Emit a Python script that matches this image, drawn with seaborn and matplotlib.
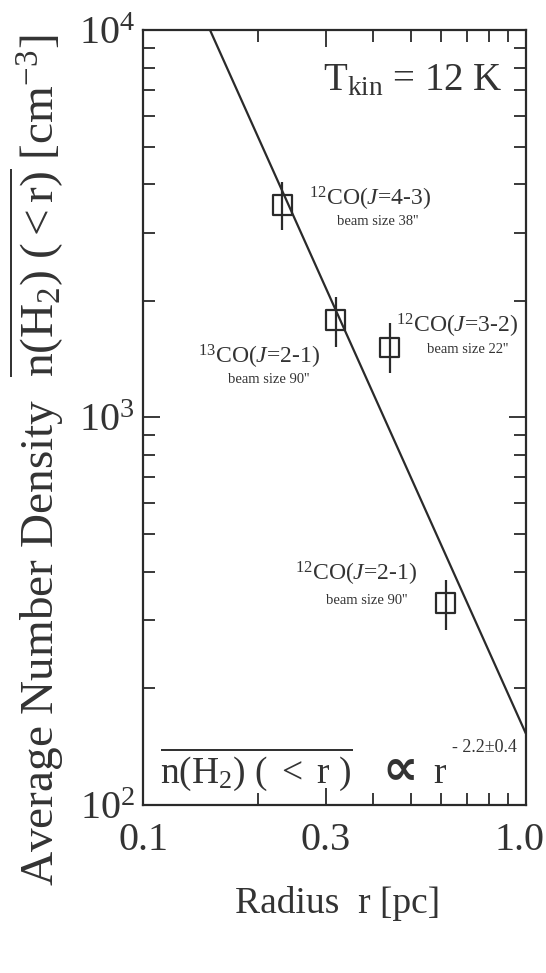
import numpy as np
import pandas as pd
import matplotlib
matplotlib.use("Agg")
import matplotlib.pyplot as plt
import matplotlib.transforms as mtrans
from matplotlib.ticker import FixedLocator, FixedFormatter, LogLocator, NullFormatter
import seaborn as sns

# data
radius_pc = [0.231, 0.319, 0.441, 0.618]
density = [3535, 1785, 1514, 332]
density_hi = [4055, 2046, 1754, 381]
density_lo = [3047, 1520, 1303, 283]
line_names = [r"$^{12}$CO($J$=4-3)", r"$^{13}$CO($J$=2-1)", r"$^{12}$CO($J$=3-2)", r"$^{12}$CO($J$=2-1)"]
beam_sizes = ["beam size 38''", "beam size 90''", "beam size 22''", "beam size 90''"]

# power law fit  n = A r^slope
fit_amp = 153.0
fit_slope = -2.2

xticks = [0.1, 0.3, 1.0]
xticklabels = ["0.1", "0.3", "1.0"]

sns.set_style("ticks")
plt.rcParams["font.family"] = ["Liberation Serif", "DejaVu Serif"]
plt.rcParams["mathtext.fontset"] = "custom"
plt.rcParams["mathtext.rm"] = "Liberation Serif"
plt.rcParams["mathtext.it"] = "Liberation Serif:italic"
plt.rcParams["mathtext.bf"] = "Liberation Serif:bold"

ink = "#2a2a2a"
txt = "#333333"

fig = plt.figure(figsize=(5.46, 9.73), dpi=100)
ax = fig.add_axes([0.262, 0.1727, 0.701, 0.7965])

df = pd.DataFrame({"r": radius_pc, "n": density})
yerr = [np.array(density) - np.array(density_lo), np.array(density_hi) - np.array(density)]

r_fit = np.logspace(-1, 0, 50)
fit_df = pd.DataFrame({"r": r_fit, "n": fit_amp * r_fit ** fit_slope})
sns.lineplot(data=fit_df, x="r", y="n", color=ink, lw=1.6, ax=ax)

ax.errorbar(radius_pc, density, yerr=yerr, fmt="none", ecolor=ink, elinewidth=1.6, capsize=0)
sns.scatterplot(data=df, x="r", y="n", marker="s", s=190, facecolors="none",
                edgecolor=ink, linewidth=1.6, ax=ax, zorder=3)

ax.set_xscale("log")
ax.set_yscale("log")
ax.set_xlim(0.1, 1.0)
ax.set_ylim(100, 1e4)

ax.xaxis.set_major_locator(FixedLocator(xticks))
ax.xaxis.set_major_formatter(FixedFormatter(xticklabels))
ax.xaxis.set_minor_locator(FixedLocator([0.2, 0.4, 0.5, 0.6, 0.7, 0.8, 0.9]))
ax.xaxis.set_minor_formatter(NullFormatter())
ax.yaxis.set_minor_locator(LogLocator(base=10, subs=np.arange(2, 10)))
ax.yaxis.set_minor_formatter(NullFormatter())

ax.tick_params(which="both", direction="in", top=True, right=True, color=ink, width=1.3)
ax.tick_params(which="major", length=12, labelsize=29, labelcolor=txt)
ax.tick_params(which="minor", length=8.5)
ax.tick_params(axis="x", which="major", pad=12)
ax.tick_params(axis="y", which="major", pad=6)
for s in ax.spines.values():
    s.set_color(ink)
    s.set_linewidth(1.6)

# nudge the last x label left so it stays inside the figure
fig.canvas.draw()
last = ax.get_xticklabels()[-1]
last.set_transform(last.get_transform() + mtrans.ScaledTranslation(-0.06, 0, fig.dpi_scale_trans))

ax.set_xlabel("Radius  r [pc]", fontsize=27, color=txt)
ax.xaxis.set_label_coords(0.509, -0.105)
ax.set_ylabel(r"Average Number Density  $\overline{\mathrm{n(H_2)\ (<r)}}$ [cm$^{-3}$]",
              fontsize=34, color=txt)
ax.yaxis.set_label_coords(-0.198, 0.445)

# point annotations
name_pos = [(0.593, 0.773), (0.304, 0.570), (0.821, 0.609), (0.557, 0.289)]
beam_pos = [(0.614, 0.748), (0.328, 0.5445), (0.849, 0.583), (0.584, 0.259)]
for name, beam, p1, p2 in zip(line_names, beam_sizes, name_pos, beam_pos):
    ax.text(p1[0], p1[1], name, transform=ax.transAxes, ha="center", va="baseline",
            fontsize=17, color=txt)
    ax.text(p2[0], p2[1], beam, transform=ax.transAxes, ha="center", va="baseline",
            fontsize=10.5, color=txt)

ax.text(0.94, 0.9226, r"T$_{\mathrm{kin}}$ = 12 K", transform=ax.transAxes, ha="right",
        va="baseline", fontsize=28, color=txt)

# power-law label at the bottom
ax.text(0.044, 0.0284, r"$\overline{\mathrm{n(H_2)\ (\ <\ r\ )}}$",
        transform=ax.transAxes, ha="left", va="baseline", fontsize=27, color=txt)
ax.text(0.671, 0.0284, "\u221d", transform=ax.transAxes, ha="center", va="baseline",
        fontsize=36, fontweight="bold", family=["DejaVu Sans"], color=txt)
ax.text(0.757, 0.0284, "r", transform=ax.transAxes, ha="left", va="baseline",
        fontsize=27, color=txt)
ax.text(0.807, 0.068, "- 2.2\u00b10.4", transform=ax.transAxes, ha="left",
        va="baseline", fontsize=13, color=txt)

fig.savefig("out.png", dpi=100)
